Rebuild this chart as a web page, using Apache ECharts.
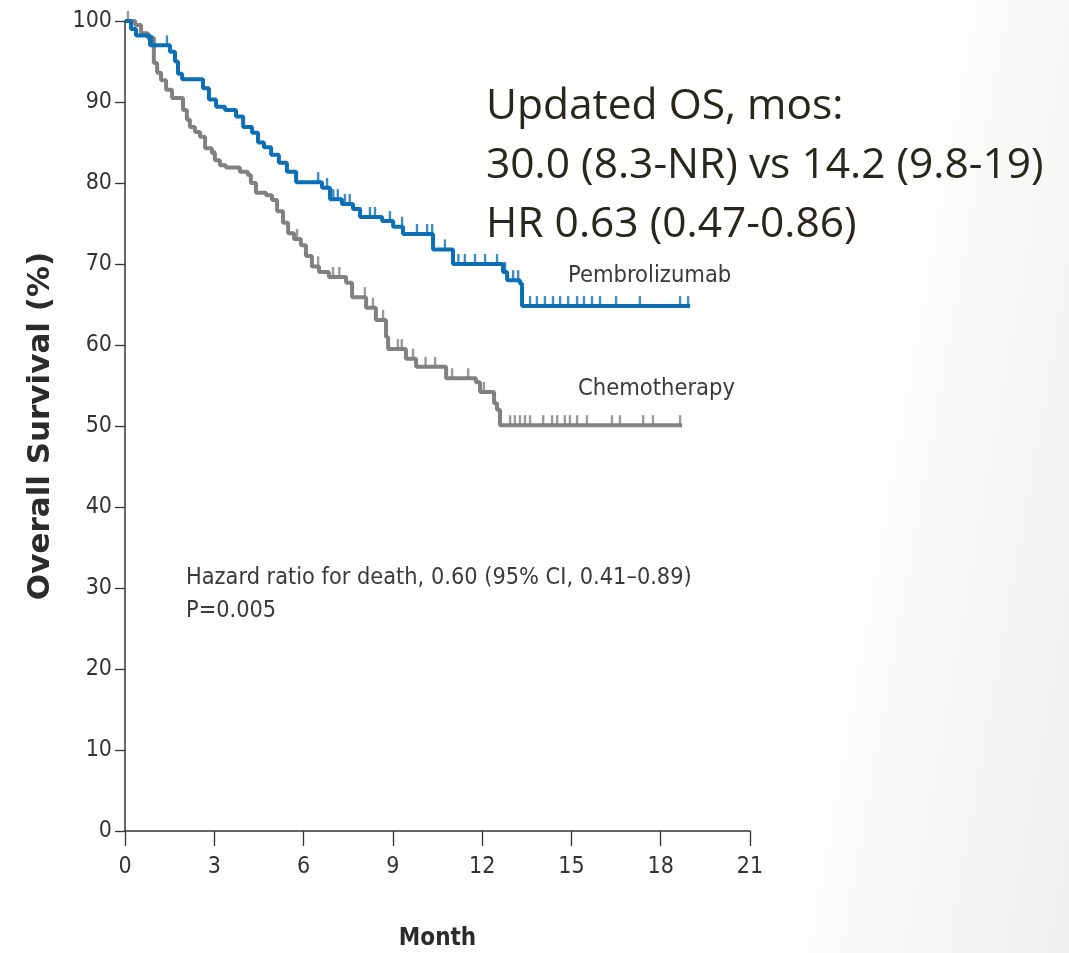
<!DOCTYPE html>
<html>
<head>
<meta charset="utf-8">
<script src="https://cdn.jsdelivr.net/npm/echarts@6/dist/echarts.min.js"></script>
<style>
  html, body { margin: 0; padding: 0; }
  body {
    width: 1069px; height: 953px; overflow: hidden;
    background: linear-gradient(100deg, #ffffff 0%, #ffffff 74%, #f8f8f8 86%, #efefef 100%);
  }
  #chart { width: 1069px; height: 953px; }
</style>
</head>
<body>
<div id="chart"></div>
<script>
// Kaplan-Meier steps: [month at which the estimate drops, new survival %]
const pembroSteps = [
  [0, 100], [0.20, 99.0], [0.37, 98.2], [0.84, 97.0], [1.51, 96.2], [1.68, 95.0],
  [1.78, 93.5], [1.92, 92.8], [2.62, 91.7], [2.82, 90.3], [3.06, 89.4], [3.36, 89.0],
  [3.73, 88.2], [3.97, 86.9], [4.27, 86.2], [4.47, 85.0], [4.67, 84.4], [4.91, 83.5],
  [5.17, 82.5], [5.44, 81.4], [5.75, 80.1], [6.62, 79.4], [6.89, 78.0], [7.29, 77.4],
  [7.66, 76.8], [7.90, 75.8], [8.64, 75.3], [9.01, 74.6], [9.34, 73.7], [10.35, 71.8],
  [11.02, 70.0], [12.70, 69.0], [12.84, 68.0], [13.27, 67.6], [13.34, 64.8], [18.99, 64.8]
];
const chemoSteps = [
  [0, 100], [0.34, 99.5], [0.54, 98.5], [0.77, 97.9], [0.97, 94.8], [1.08, 93.6],
  [1.21, 92.7], [1.38, 91.5], [1.58, 90.5], [1.95, 89.0], [2.08, 87.8], [2.18, 86.9],
  [2.35, 86.3], [2.52, 85.7], [2.69, 84.3], [2.92, 83.7], [3.02, 82.8], [3.19, 82.2],
  [3.39, 81.9], [3.86, 81.4], [4.13, 81.0], [4.23, 80.0], [4.40, 78.8], [4.74, 78.5],
  [4.94, 77.9], [5.11, 76.5], [5.31, 75.1], [5.48, 73.8], [5.68, 73.1], [5.91, 72.3],
  [6.08, 71.0], [6.28, 69.7], [6.52, 69.0], [6.85, 68.4], [7.43, 67.7], [7.63, 65.9],
  [8.10, 64.6], [8.43, 63.1], [8.77, 61.0], [8.84, 59.5], [9.44, 58.3], [9.78, 57.3],
  [10.79, 55.9], [11.79, 55.4], [11.93, 54.2], [12.40, 52.8], [12.50, 52.0], [12.60, 50.1],
  [18.72, 50.1]
];
// Censoring times (months)
const pembroCensor = [
  0.91, 1.41, 6.49, 6.79, 7.00, 7.15, 7.39, 7.55, 7.90, 8.23, 8.40, 8.90, 9.31, 9.81,
  10.15, 10.32, 10.75, 11.20, 11.42, 11.76, 12.10, 12.50, 12.77, 13.04, 13.21, 13.61,
  13.84, 14.11, 14.38, 14.62, 14.89, 15.19, 15.42, 15.69, 15.96, 16.50, 17.30, 18.65, 18.92
];
const chemoCensor = [
  0.10, 3.02, 5.78, 6.49, 6.99, 7.20, 8.06, 8.33, 8.67, 9.17, 9.30, 9.68, 10.10, 10.42,
  10.99, 11.53, 12.06, 12.94, 13.10, 13.27, 13.44, 13.61, 14.05, 14.35, 14.52, 14.78,
  14.95, 15.19, 15.52, 16.36, 16.63, 17.41, 17.74, 18.65
];
const monthTicks = [0, 3, 6, 9, 12, 15, 18, 21];
const survivalTicks = [0, 10, 20, 30, 40, 50, 60, 70, 80, 90, 100];

const BLUE = '#0c6fb6';
const GRAY = '#818181';
const narrow = '"Liberation Sans Narrow", "DejaVu Sans Condensed", sans-serif';

// survival estimate in effect at time t
function survivalAt(steps, t) {
  let s = steps[0][1];
  for (const [m, v] of steps) { if (m <= t) s = v; else break; }
  return s;
}
const censorPoints = (steps, times) => times.map(t => [t, survivalAt(steps, t)]);

const chart = echarts.init(document.getElementById('chart'), null, { renderer: 'canvas' });

const tickMark = {
  type: 'scatter',
  symbol: 'rect',
  symbolSize: [2.4, 10],
  symbolOffset: [0, -5],
  silent: true,
  z: 3
};

chart.setOption({
  backgroundColor: 'transparent',
  animation: false,
  grid: { left: 125, right: 319, top: 21, bottom: 122, containLabel: false, outerBoundsMode: 'none' },
  xAxis: {
    type: 'value', min: 0, max: 21, interval: 3,
    name: 'Month', nameLocation: 'middle', nameGap: 96,
    nameTextStyle: { fontFamily: narrow, fontSize: 24, fontWeight: 'bold', color: '#2b2b2b' },
    axisLine: { show: true, onZero: false, lineStyle: { color: '#333', width: 1.5 } },
    axisTick: { show: true, length: 15, inside: false, lineStyle: { color: '#333', width: 1.3 } },
    axisLabel: { fontFamily: narrow, fontSize: 23, color: '#333', margin: 25,
      formatter: v => monthTicks.includes(v) ? String(v) : '' },
    splitLine: { show: false }
  },
  yAxis: {
    type: 'value', min: 0, max: 100, interval: 10,
    name: 'Overall Survival (%)', nameLocation: 'middle', nameGap: 69, nameRotate: 90,
    nameTextStyle: { fontFamily: '"DejaVu Sans", sans-serif', fontSize: 31, fontWeight: 'bold', color: '#2b2b2b' },
    axisLine: { show: true, lineStyle: { color: '#333', width: 1.5 } },
    axisTick: { show: true, length: 10, lineStyle: { color: '#333', width: 1.3 } },
    axisLabel: { fontFamily: narrow, fontSize: 23, color: '#333', margin: 13,
      formatter: v => survivalTicks.includes(v) ? String(v) : '' },
    splitLine: { show: false }
  },
  series: [
    {
      name: 'Chemotherapy', type: 'line', step: 'end', data: chemoSteps,
      showSymbol: false, lineStyle: { color: GRAY, width: 4 }, z: 2
    },
    Object.assign({ name: 'Chemotherapy censored', data: censorPoints(chemoSteps, chemoCensor),
      itemStyle: { color: GRAY } }, tickMark),
    {
      name: 'Pembrolizumab', type: 'line', step: 'end', data: pembroSteps,
      showSymbol: false, lineStyle: { color: BLUE, width: 4 }, z: 4
    },
    Object.assign({ name: 'Pembrolizumab censored', data: censorPoints(pembroSteps, pembroCensor),
      itemStyle: { color: BLUE } }, tickMark, { z: 5 })
  ],
  graphic: [
    { type: 'text', left: 568, top: 264, style: { text: 'Pembrolizumab', font: '23.5px ' + narrow, fill: '#3a3a3a' } },
    { type: 'text', left: 578, top: 377, style: { text: 'Chemotherapy', font: '23.5px ' + narrow, fill: '#3a3a3a' } },
    { type: 'text', left: 186, top: 561, style: {
        text: 'Hazard ratio for death, 0.60 (95% CI, 0.41\u20130.89)\nP=0.005',
        font: '23.3px ' + narrow, fill: '#3a3a3a', lineHeight: 33 } },
    { type: 'text', left: 486, top: 77, style: {
        text: 'Updated OS, mos:\n30.0 (8.3-NR) vs 14.2 (9.8-19)\nHR 0.63 (0.47-0.86)',
        font: '42.5px "Open Sans", "Noto Sans", sans-serif', fill: '#29261c', lineHeight: 59 } }
  ]
});
</script>
</body>
</html>
